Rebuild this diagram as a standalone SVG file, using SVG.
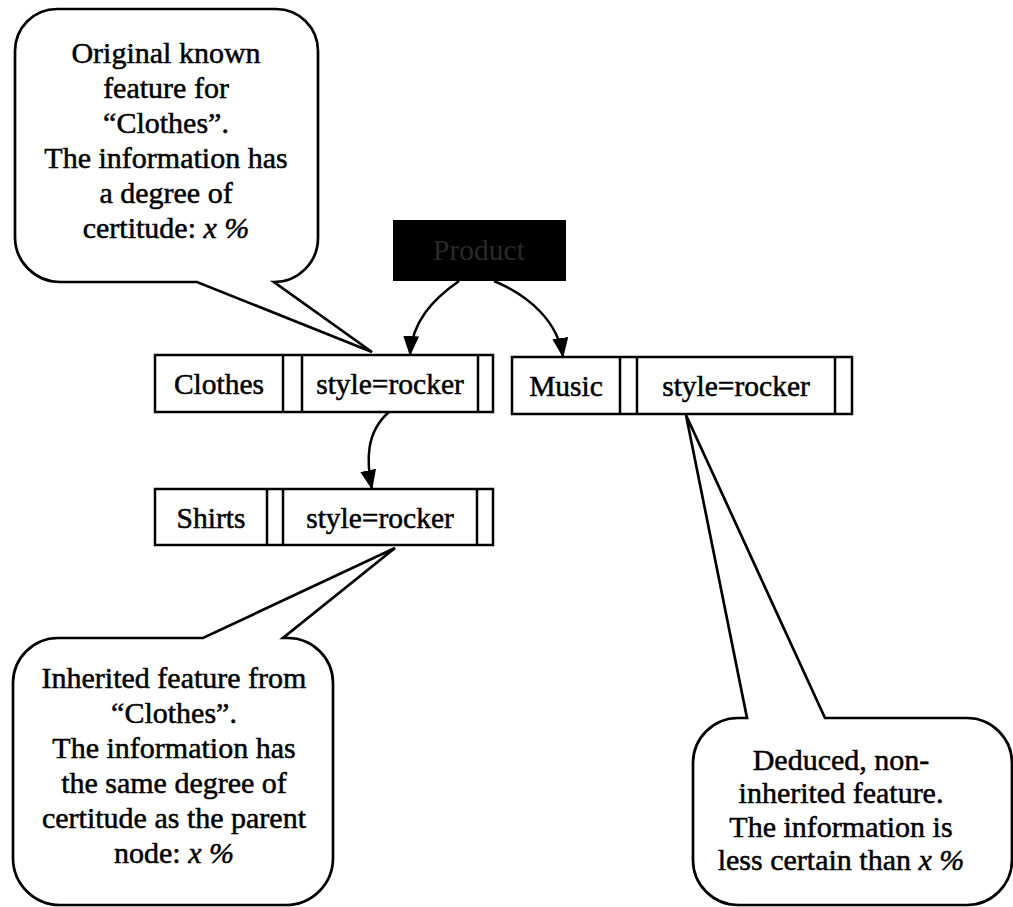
<svg xmlns="http://www.w3.org/2000/svg" width="1013" height="907" viewBox="0 0 1013 907">
  <style>
    text { font-family: "Liberation Serif", "Times New Roman", serif; fill: #000; stroke: #000; stroke-width: 0.5; }
    .lbl { font-size: 29.5px; text-anchor: middle; }
    .note { font-size: 30px; text-anchor: middle; }
    .box { fill: #fff; stroke: #000; stroke-width: 2.5; }
    .bubble { fill: #fff; stroke: #000; stroke-width: 2.7; stroke-linejoin: miter; }
    .edge { fill: none; stroke: #000; stroke-width: 2.5; }
    .it { font-style: italic; }
    .dim { fill: #2a2a2a; stroke: none; }
  </style>
  <defs>
    <marker id="arrow" viewBox="0 0 20 16" refX="19" refY="8" markerWidth="20" markerHeight="16" markerUnits="userSpaceOnUse" orient="auto">
      <path d="M0,0 L20,8 L0,16 Z" fill="#000"/>
    </marker>
  </defs>
  <rect width="1013" height="907" fill="#fff"/>

  <!-- callout: original feature -->
  <g id="note-original">
    <path class="bubble" d="M57,9 H276 A42,42 0 0 1 318,51 V238 A44,44 0 0 1 274,282 L372,352 L197,282 H60 A45,45 0 0 1 15,237 V51 A42,42 0 0 1 57,9 Z"/>
    <text class="note" x="166" y="63">Original known</text>
    <text class="note" x="166" y="98">feature for</text>
    <text class="note" x="166" y="133">“Clothes”.</text>
    <text class="note" x="166" y="168">The information has</text>
    <text class="note" x="166" y="203">a degree of</text>
    <text class="note" x="166" y="238">certitude: <tspan class="it">x %</tspan></text>
  </g>

  <!-- root node -->
  <g id="node-product">
    <rect x="393" y="220" width="173" height="61" fill="#000"/>
    <text class="lbl dim" x="479" y="260">Product</text>
  </g>

  <!-- Clothes record -->
  <g id="node-clothes">
    <rect class="box" x="155" y="355" width="338" height="57"/>
    <line class="edge" x1="283" y1="355" x2="283" y2="412"/>
    <line class="edge" x1="302" y1="355" x2="302" y2="412"/>
    <line class="edge" x1="478" y1="355" x2="478" y2="412"/>
    <text class="lbl" x="219" y="394">Clothes</text>
    <text class="lbl" x="390" y="394">style=rocker</text>
  </g>

  <!-- Music record -->
  <g id="node-music">
    <rect class="box" x="512" y="357" width="340" height="57"/>
    <line class="edge" x1="620" y1="357" x2="620" y2="414"/>
    <line class="edge" x1="637" y1="357" x2="637" y2="414"/>
    <line class="edge" x1="835" y1="357" x2="835" y2="414"/>
    <text class="lbl" x="566" y="396">Music</text>
    <text class="lbl" x="736" y="396">style=rocker</text>
  </g>

  <!-- Shirts record -->
  <g id="node-shirts">
    <rect class="box" x="155" y="489" width="338" height="56"/>
    <line class="edge" x1="267" y1="489" x2="267" y2="545"/>
    <line class="edge" x1="283" y1="489" x2="283" y2="545"/>
    <line class="edge" x1="477" y1="489" x2="477" y2="545"/>
    <text class="lbl" x="211" y="528">Shirts</text>
    <text class="lbl" x="380" y="528">style=rocker</text>
  </g>

  <!-- hierarchy edges -->
  <g id="connectors">
    <path class="edge" d="M459,281 C432,300 412,322 410,355" marker-end="url(#arrow)"/>
    <path class="edge" d="M494,281 C530,296 558,322 563,357" marker-end="url(#arrow)"/>
    <path class="edge" d="M389,412 C366,432 366,460 372,489" marker-end="url(#arrow)"/>
  </g>

  <!-- callout: inherited feature -->
  <g id="note-inherited">
    <path class="bubble" d="M60,638 H203 L395,548 L283,638 H288 A45,45 0 0 1 333,683 V858 A47,47 0 0 1 286,905 H60 A47,47 0 0 1 13,858 V683 A45,45 0 0 1 58,638 Z"/>
    <text class="note" x="174" y="688">Inherited feature from</text>
    <text class="note" x="174" y="723">“Clothes”.</text>
    <text class="note" x="174" y="758">The information has</text>
    <text class="note" x="174" y="793">the same degree of</text>
    <text class="note" x="174" y="828">certitude as the parent</text>
    <text class="note" x="174" y="863">node: <tspan class="it">x %</tspan></text>
  </g>

  <!-- callout: deduced feature -->
  <g id="note-deduced">
    <path class="bubble" d="M738,718 H747 L686,415 L825,718 H967 A45,45 0 0 1 1012,763 V860 A45,45 0 0 1 967,905 H738 A45,45 0 0 1 693,860 V763 A45,45 0 0 1 738,718 Z"/>
    <text class="note" x="841" y="770">Deduced, non-</text>
    <text class="note" x="841" y="803">inherited feature.</text>
    <text class="note" x="841" y="837">The information is</text>
    <text class="note" x="841" y="870">less certain than <tspan class="it">x %</tspan></text>
  </g>
</svg>
